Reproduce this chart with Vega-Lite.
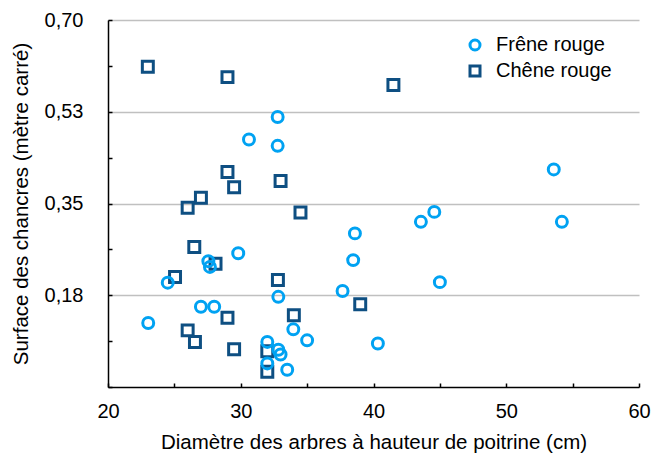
{
  "$schema": "https://vega.github.io/schema/vega-lite/v6.json",
  "width": 531,
  "height": 367,
  "autosize": {"type": "none"},
  "padding": {"left": 108, "top": 20, "right": 26, "bottom": 72},
  "background": "white",
  "config": {
    "view": {"stroke": null},
    "font": "Liberation Sans",
    "axis": {"labelFont": "Liberation Sans", "titleFont": "Liberation Sans", "labelColor": "#000", "titleColor": "#000", "titleFontWeight": "normal", "domainColor": "#000", "tickColor": "#000", "domainWidth": 1.5, "tickWidth": 1.5}
  },
  "data": {"values": [
    {"d": 23.0, "s": 0.611, "espece": "Chêne rouge"},
    {"d": 29.0, "s": 0.591, "espece": "Chêne rouge"},
    {"d": 41.5, "s": 0.576, "espece": "Chêne rouge"},
    {"d": 29.0, "s": 0.410, "espece": "Chêne rouge"},
    {"d": 33.0, "s": 0.393, "espece": "Chêne rouge"},
    {"d": 29.5, "s": 0.381, "espece": "Chêne rouge"},
    {"d": 27.0, "s": 0.361, "espece": "Chêne rouge"},
    {"d": 26.0, "s": 0.342, "espece": "Chêne rouge"},
    {"d": 34.5, "s": 0.333, "espece": "Chêne rouge"},
    {"d": 26.5, "s": 0.267, "espece": "Chêne rouge"},
    {"d": 28.1, "s": 0.235, "espece": "Chêne rouge"},
    {"d": 25.05, "s": 0.210, "espece": "Chêne rouge"},
    {"d": 32.8, "s": 0.204, "espece": "Chêne rouge"},
    {"d": 39.0, "s": 0.158, "espece": "Chêne rouge"},
    {"d": 34.0, "s": 0.137, "espece": "Chêne rouge"},
    {"d": 29.0, "s": 0.132, "espece": "Chêne rouge"},
    {"d": 26.0, "s": 0.108, "espece": "Chêne rouge"},
    {"d": 26.55, "s": 0.086, "espece": "Chêne rouge"},
    {"d": 29.5, "s": 0.072, "espece": "Chêne rouge"},
    {"d": 32.0, "s": 0.068, "espece": "Chêne rouge"},
    {"d": 32.0, "s": 0.029, "espece": "Chêne rouge"},
    {"d": 32.78, "s": 0.515, "espece": "Frêne rouge"},
    {"d": 30.62, "s": 0.472, "espece": "Frêne rouge"},
    {"d": 32.78, "s": 0.460, "espece": "Frêne rouge"},
    {"d": 53.58, "s": 0.415, "espece": "Frêne rouge"},
    {"d": 44.58, "s": 0.334, "espece": "Frêne rouge"},
    {"d": 43.57, "s": 0.315, "espece": "Frêne rouge"},
    {"d": 54.19, "s": 0.315, "espece": "Frêne rouge"},
    {"d": 38.6, "s": 0.293, "espece": "Frêne rouge"},
    {"d": 38.47, "s": 0.242, "espece": "Frêne rouge"},
    {"d": 45.0, "s": 0.200, "espece": "Frêne rouge"},
    {"d": 37.67, "s": 0.183, "espece": "Frêne rouge"},
    {"d": 40.33, "s": 0.083, "espece": "Frêne rouge"},
    {"d": 27.56, "s": 0.240, "espece": "Frêne rouge"},
    {"d": 27.68, "s": 0.229, "espece": "Frêne rouge"},
    {"d": 24.5, "s": 0.199, "espece": "Frêne rouge"},
    {"d": 27.0, "s": 0.153, "espece": "Frêne rouge"},
    {"d": 28.0, "s": 0.153, "espece": "Frêne rouge"},
    {"d": 23.03, "s": 0.122, "espece": "Frêne rouge"},
    {"d": 29.81, "s": 0.255, "espece": "Frêne rouge"},
    {"d": 32.83, "s": 0.172, "espece": "Frêne rouge"},
    {"d": 33.96, "s": 0.110, "espece": "Frêne rouge"},
    {"d": 35.0, "s": 0.089, "espece": "Frêne rouge"},
    {"d": 32.0, "s": 0.086, "espece": "Frêne rouge"},
    {"d": 32.83, "s": 0.071, "espece": "Frêne rouge"},
    {"d": 33.0, "s": 0.062, "espece": "Frêne rouge"},
    {"d": 32.0, "s": 0.045, "espece": "Frêne rouge"},
    {"d": 33.5, "s": 0.033, "espece": "Frêne rouge"}
  ]},
  "mark": {"type": "point", "filled": false, "strokeWidth": 3, "opacity": 1},
  "encoding": {
    "x": {
      "field": "d", "type": "quantitative",
      "scale": {"domain": [20, 60], "nice": false, "zero": false},
      "axis": {
        "title": "Diamètre des arbres à hauteur de poitrine (cm)",
        "values": [20, 25, 30, 35, 40, 45, 50, 55, 60],
        "labelExpr": "datum.value % 10 == 0 ? datum.label : ''",
        "grid": false, "tickSize": -4, "labelPadding": 18, "labelFontSize": 20,
        "titleFontSize": 20.5, "titlePadding": 11, "labelFlush": false
      }
    },
    "y": {
      "field": "s", "type": "quantitative",
      "scale": {"domain": [0, 0.7], "nice": false, "zero": true},
      "axis": {
        "title": "Surface des chancres (mètre carré)",
        "values": [0, 0.0875, 0.175, 0.2625, 0.35, 0.4375, 0.525, 0.6125, 0.7],
        "labelExpr": "(datum.value > 0.01 && round(datum.value / 0.0875) % 2 == 0) ? replace(format(datum.value + 0.0001, '.2f'), '.', ',') : ''",
        "grid": true, "gridColor": "#c0c0c0", "gridWidth": 1.5,
        "gridOpacity": {"condition": {"test": "datum.value > 0.01 && round(datum.value / 0.0875) % 2 == 0", "value": 1}, "value": 0},
        "tickSize": -4, "labelPadding": 29, "labelFontSize": 20,
        "titleFontSize": 20.5, "titlePadding": 13, "labelFlush": false
      }
    },
    "color": {
      "field": "espece", "type": "nominal",
      "scale": {"domain": ["Frêne rouge", "Chêne rouge"], "range": ["#00a2f2", "#0e4f82"]},
      "legend": {"title": null, "orient": "none", "legendX": 357, "legendY": 15, "labelFontSize": 20, "labelFont": "Liberation Sans", "labelColor": "#000", "symbolStrokeWidth": 3, "symbolSize": 100, "rowPadding": 4, "labelOffset": 11}
    },
    "shape": {
      "field": "espece", "type": "nominal",
      "scale": {"domain": ["Frêne rouge", "Chêne rouge"], "range": ["circle", "square"]},
      "legend": null
    },
    "size": {"value": 120}
  }
}
